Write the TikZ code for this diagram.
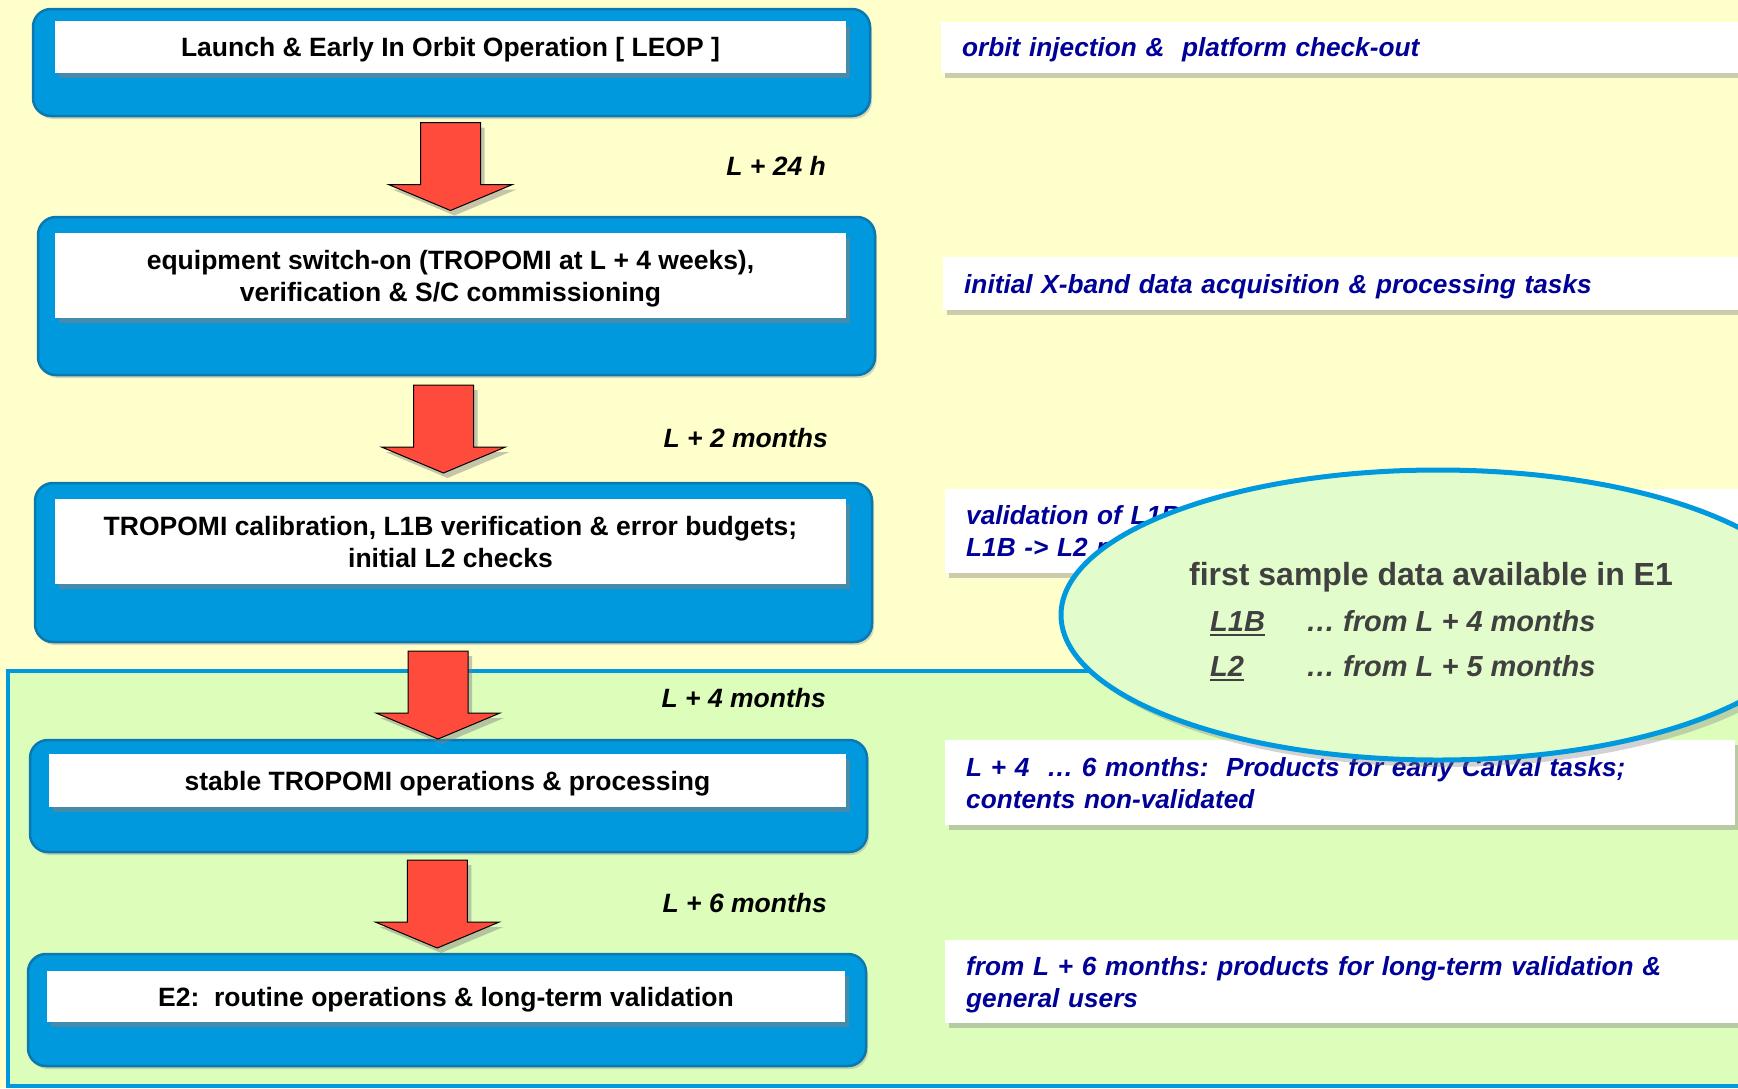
\documentclass[tikz,border=0pt]{standalone}
\usepackage{fontspec}
\setmainfont{Liberation Sans}
\usetikzlibrary{calc,shadows,positioning}
\definecolor{slideyellow}{HTML}{FFFFCC}
\definecolor{slidegreen}{HTML}{DDFDBB}
\definecolor{phaseblue}{HTML}{0099DD}
\definecolor{phaseedge}{HTML}{0B78B0}
\definecolor{arrowred}{HTML}{FF4B3C}
\definecolor{notenavy}{HTML}{000099}
\definecolor{bubblegreen}{HTML}{E2FDCB}
\definecolor{bubblegray}{HTML}{404040}
\frenchspacing
\tikzset{
  phase/.style={rectangle, rounded corners=18pt, fill=phaseblue, draw=phaseedge, line width=2.5pt,
                drop shadow={shadow xshift=2pt, shadow yshift=-3pt, opacity=.3}},
  phasetitle/.style={rectangle, fill=white, align=center, inner sep=0pt, text depth=0pt,
                     font=\fontsize{26.5}{32}\selectfont\bfseries,
                     drop shadow={shadow xshift=4pt, shadow yshift=-5pt, opacity=.55}},
  note/.style={rectangle, fill=white, anchor=west, align=left, inner xsep=21pt, inner ysep=0pt,
               text width=762pt, minimum width=804pt, text=notenavy, text depth=32pt,
               font=\fontsize{26.2}{32}\selectfont\bfseries\itshape,
               drop shadow={shadow xshift=4pt, shadow yshift=-5pt, opacity=.4}},
  oneline/.style={text depth=0pt},
  timelabel/.style={anchor=base east, inner sep=0pt, font=\fontsize{26.5}{32}\selectfont\bfseries\itshape},
  bubbletext/.style={anchor=base west, inner sep=0pt, text=bubblegray,
                     font=\fontsize{29}{34}\selectfont\bfseries\itshape},
  flowarrow/.pic={
    \filldraw[fill=arrowred, draw=black, line width=1pt,
              drop shadow={shadow xshift=4pt, shadow yshift=-5pt, opacity=.45}]
      (-30,-44) -- (30,-44) -- (30,18) -- (62,18) -- (0,44) -- (-62,18) -- (-30,18) -- cycle;
  }
}

\begin{document}
\begin{tikzpicture}[x=1pt,y=-1pt]
  % Fix the page and cut everything that runs off it.
  \useasboundingbox (0,0) rectangle (1738,1088);
  \clip (0,0) rectangle (1738,1088);

  % Draw background and the green region of the last phases.
  \fill[slideyellow] (0,0) rectangle (1738,1088);
  \draw[fill=slidegreen, draw=phaseblue, line width=4pt] (8,671) rectangle (1760,1086);

  % Draw notes on the right.
  \node[note, oneline, minimum height=51pt] (injnote) at (941,47.5)
    {orbit injection \&~ platform check-out};
  \node[note, oneline, minimum height=53pt] (xbandnote) at (943,283.5)
    {initial X-band data acquisition \& processing tasks};
  \node[note, minimum height=84pt] (valnote) at (945,531)
    {validation of L1B products, \\ L1B -> L2 processing};
  \node[note, minimum height=85pt, minimum width=790pt, text width=748pt] (calvalnote) at (945,782.5)
    {L + 4~ … 6 months:~ Products for early CalVal tasks; \\ contents non-validated};
  \node[note, minimum height=83pt] (usernote) at (945,981.5)
    {from L + 6 months: products for long-term validation \& \\ general users};

  % Draw phase boxes with their titles.
  \node[phase, minimum width=837pt, minimum height=107pt] (leopbox) at (451.5,62.5) {};
  \node[phasetitle, minimum width=791pt, minimum height=52pt] (leop) at (450.5,47)
    {Launch \& Early In Orbit Operation [ LEOP ]};
  \node[phase, minimum width=837pt, minimum height=158pt] (switchbox) at (456.5,296) {};
  \node[phasetitle, minimum width=791pt, minimum height=85pt] (switchon) at (450.5,275.5)
    {equipment switch-on (TROPOMI at L + 4 weeks), \\ verification \& S/C commissioning};
  \node[phase, minimum width=837pt, minimum height=159pt] (calibbox) at (453.5,562.5) {};
  \node[phasetitle, minimum width=791pt, minimum height=85pt] (calib) at (450.5,541.5)
    {TROPOMI calibration, L1B verification \& error budgets; \\ initial L2 checks};
  \node[phase, minimum width=837pt, minimum height=112pt] (stablebox) at (448.5,796) {};
  \node[phasetitle, minimum width=797pt, minimum height=53pt] (stable) at (447.5,780.5)
    {stable TROPOMI operations \& processing};
  \node[phase, minimum width=838pt, minimum height=112pt] (routinebox) at (447,1010) {};
  \node[phasetitle, minimum width=798pt, minimum height=51pt] (routine) at (446,996.5)
    {E2:~ routine operations \& long-term validation};

  % Draw flow arrows between phases.
  \pic at ($(leopbox.south)!.5!(switchbox.north)+(-3.5,0)$) {flowarrow};
  \pic at ($(switchbox.south)!.5!(calibbox.north)+(-11.5,0)$) {flowarrow};
  \pic at ($(calibbox.south)!.5!(stablebox.north)+(-13,4)$) {flowarrow};
  \pic at ($(stablebox.south)!.5!(routinebox.north)+(-10.5,1)$) {flowarrow};

  % Label time after launch.
  \node[timelabel] (t24h) at (826,175) {L + 24 h};
  \node[timelabel] (t2m) at (828,447) {L + 2 months};
  \node[timelabel] (t4m) at (826,707) {L + 4 months};
  \node[timelabel] (t6m) at (827,912) {L + 6 months};

  % Draw bubble with first sample data.
  \filldraw[fill=bubblegreen, draw=phaseblue, line width=5pt,
            drop shadow={shadow xshift=6pt, shadow yshift=-7pt, opacity=.35}]
    (1438,615) ellipse [x radius=377, y radius=145];
  \node[anchor=base, inner sep=0pt, text=bubblegray, font=\fontsize{32}{38}\selectfont\bfseries]
    (sample) at (1431,585) {first sample data available in E1};
  \node[bubbletext] (l1b) at (1210,631) {L1B};
  \node[bubbletext] (l1bfrom) at (1306,631) {… from L + 4 months};
  \node[bubbletext] (l2) at (1210,676) {L2};
  \node[bubbletext] (l2from) at (1306,676) {… from L + 5 months};
  \draw[bubblegray, line width=2.5pt] ([yshift=-4pt]l1b.base west) -- ([yshift=-4pt]l1b.base east);
  \draw[bubblegray, line width=2.5pt] ([yshift=-4pt]l2.base west) -- ([yshift=-4pt]l2.base east);

\end{tikzpicture}
\end{document}
